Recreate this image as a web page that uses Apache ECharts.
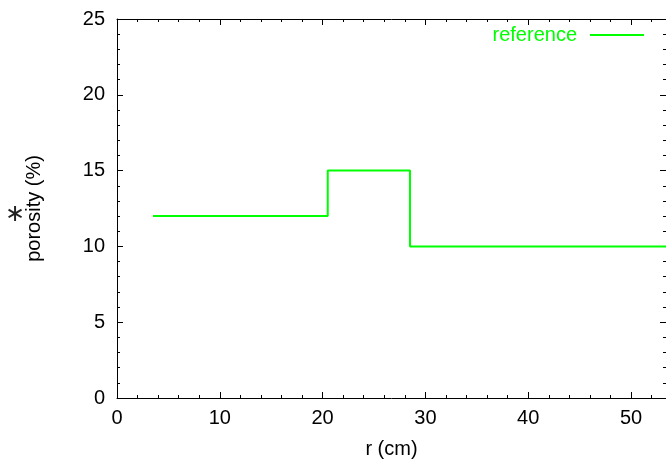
<!DOCTYPE html>
<html>
<head>
<meta charset="utf-8">
<script src="https://cdn.jsdelivr.net/npm/echarts@6/dist/echarts.min.js"></script>
<style>
html,body{margin:0;padding:0;background:#fff;}
#c{width:666px;height:464px;}
</style>
</head>
<body>
<div id="c"></div>
<script>
// Step edges (r, cm) and porosity (%) on each step
const stepStartR = [3.5, 20.5, 28.5];
const porosity = [12, 15, 10];
const endR = 56;
const seriesName = 'reference';
const xTicks = [0, 10, 20, 30, 40, 50];
const yTicks = [0, 5, 10, 15, 20, 25];

const data = stepStartR.map((r, i) => [r, porosity[i]]);
data.push([endR, porosity[porosity.length - 1]]);

const FONT = 'Liberation Sans, Arial, Helvetica, sans-serif';
const FS = 20;

function ticks() {
  return {
    axisLine: {show: true, onZero: false, lineStyle: {color: '#000', width: 1}},
    axisTick: {show: true, inside: true, length: 6, lineStyle: {color: '#000', width: 1}},
    minorTick: {show: true, splitNumber: 5, length: 3, lineStyle: {color: '#000', width: 1}},
    splitLine: {show: false},
    minorSplitLine: {show: false}
  };
}

const chart = echarts.init(document.getElementById('c'), null, {renderer: 'canvas'});
chart.setOption({
  animation: false,
  backgroundColor: '#fff',
  grid: {left: 117, right: -1, top: 19, bottom: 65, containLabel: false},
  legend: {
    show: true,
    data: [seriesName],
    right: 22,
    top: 25,
    padding: 0,
    align: 'right',
    icon: 'rect',
    itemWidth: 54,
    itemHeight: 2,
    textStyle: {color: '#00ff00', fontFamily: FONT, fontSize: FS, padding: [0, 8, 0, 0]}
  },
  xAxis: [
    Object.assign(ticks(), {
      type: 'value', min: 0, max: 53.4, interval: 10, position: 'bottom',
      name: 'r (cm)', nameLocation: 'middle', nameGap: 41,
      nameTextStyle: {color: '#000', fontFamily: FONT, fontSize: FS},
      axisLabel: {color: '#000', fontFamily: FONT, fontSize: FS, margin: 10, showMaxLabel: false,
        formatter: v => xTicks.includes(v) ? String(v) : ''}
    }),
    Object.assign(ticks(), {
      type: 'value', min: 0, max: 53.4, interval: 10, position: 'top',
      axisLabel: {show: false}
    })
  ],
  yAxis: [
    Object.assign(ticks(), {
      type: 'value', min: 0, max: 25, interval: 5, position: 'left',
      name: 'porosity (%)', nameLocation: 'middle', nameGap: 73,
      nameTextStyle: {color: '#000', fontFamily: FONT, fontSize: FS},
      axisLabel: {color: '#000', fontFamily: FONT, fontSize: FS, margin: 12,
        formatter: v => yTicks.includes(v) ? String(v) : ''}
    }),
    Object.assign(ticks(), {
      type: 'value', min: 0, max: 25, interval: 5, position: 'right',
      axisLabel: {show: false}
    })
  ],
  graphic: [{
    type: 'text', x: 15, y: 214,
    style: {text: '\u2217', fill: '#222', font: '24px "Liberation Sans", sans-serif',
      align: 'center', verticalAlign: 'middle'}
  }],
  series: [{
    name: seriesName,
    type: 'line',
    step: 'end',
    xAxisIndex: 0,
    yAxisIndex: 0,
    data: data,
    symbol: 'none',
    clip: true,
    lineStyle: {color: '#00ff00', width: 2},
    itemStyle: {color: '#00ff00'}
  }]
});
</script>
</body>
</html>
